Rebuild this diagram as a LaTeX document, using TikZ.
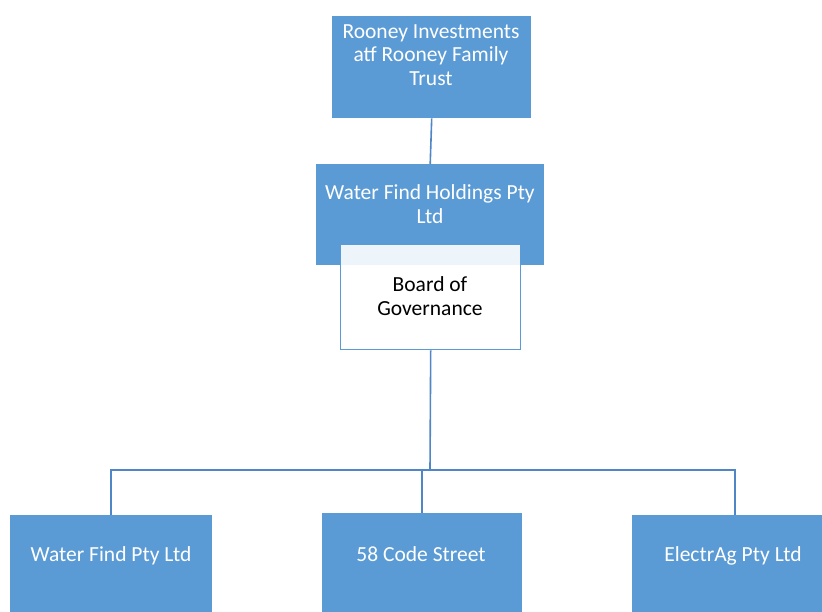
\documentclass[tikz,border=0pt]{standalone}
\usepackage{fontspec}
\setmainfont{Carlito}
\definecolor{boxblue}{HTML}{5B9BD5}
\definecolor{lineblue}{HTML}{4F86C6}
\begin{document}
\begin{tikzpicture}[x=1pt,y=-1pt,
  box/.style={draw=none,fill=boxblue,anchor=north west,inner sep=0pt},
  wtxt/.style={text=white,font=\fontsize{21.5}{23.5}\selectfont,align=center,inner sep=0pt},
  btxt/.style={text=black,font=\fontsize{21.5}{23.5}\selectfont,align=center,inner sep=0pt},
  conn/.style={draw=lineblue,line width=1.6pt}]
\useasboundingbox (0,0) rectangle (822,611);
\clip (0,0) rectangle (822,611);
% boxes
\node[box,minimum width=199pt,minimum height=102pt] (top) at (332,16) {};
\node[box,minimum width=228pt,minimum height=101pt] (mid) at (316,164) {};
\draw[conn] (top.south) -- (mid.north);
\node[anchor=north west,inner sep=0pt,fill=white,fill opacity=0.9,draw=boxblue,line width=1.4pt,minimum width=180pt,minimum height=105pt] (board) at (340,244) {};
\node[box,minimum width=202pt,minimum height=100pt] (c1) at (10,515) {};
\node[box,minimum width=200pt,minimum height=100pt] (c2) at (322,513) {};
\node[box,minimum width=206pt,minimum height=100pt] (c3) at (632,515) {};
% texts
\node[wtxt] (ttop) at (431,55) {Rooney Investments\\atf Rooney Family\\Trust};
\node[wtxt] (tmid) at (430,204) {Water Find Holdings Pty\\Ltd};
\node[btxt] (tboard) at (430,296) {Board of\\Governance};
\node[wtxt] (tc1) at (111,556) {Water Find Pty Ltd};
\node[wtxt] (tc2) at (421,554) {58 Code Street};
\node[wtxt] (tc3) at (733,556) {ElectrAg Pty Ltd};
% connectors
\coordinate (j) at (430,470);
\draw[conn] (board.south) -- (j);
\draw[conn] (j) -| (c1.north);
\draw[conn] (j) -| (735,515);
\draw[conn] (j) -| (c2.north);
\end{tikzpicture}
\end{document}
